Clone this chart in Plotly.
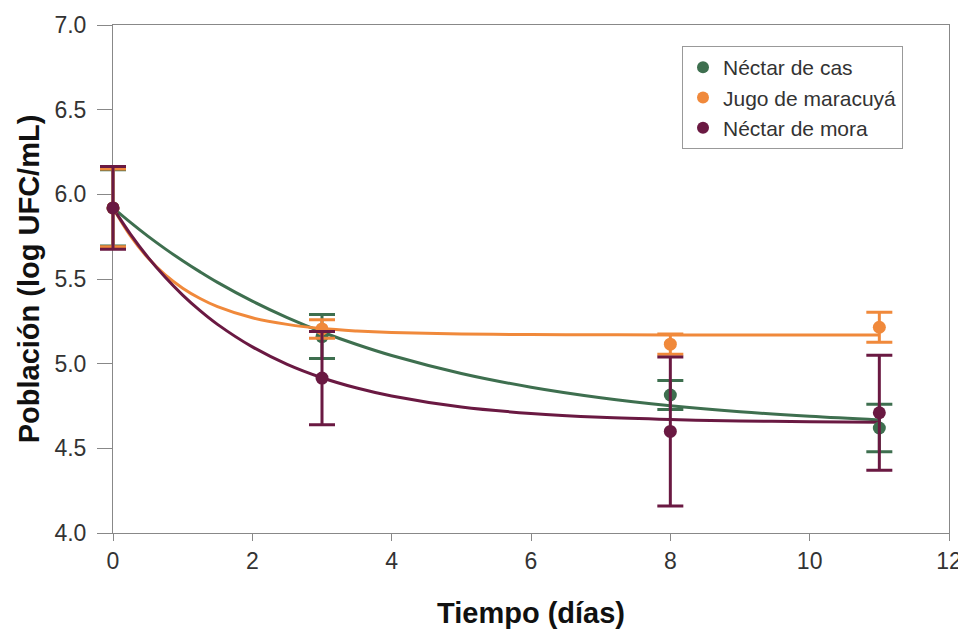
import plotly.graph_objects as go

# Measured points (días, log UFC/mL) and error (±)
dias = [0, 3, 8, 11]
cas_y = [5.92, 5.16, 4.815, 4.62]
cas_err = [0.225, 0.13, 0.085, 0.14]
mar_y = [5.92, 5.205, 5.115, 5.215]
mar_err = [0.23, 0.055, 0.06, 0.088]
mora_y = [5.92, 4.915, 4.60, 4.71]
mora_err = [0.245, 0.275, 0.44, 0.34]

# Fitted curves, values
curve_x = [0, 0.25, 0.5, 0.75, 1, 1.25, 1.5, 2, 2.5, 3, 3.5, 4, 5, 6, 7, 8, 9, 10, 11]
cas_fit = [5.92, 5.834, 5.753, 5.678, 5.608, 5.542, 5.480, 5.369, 5.272, 5.187, 5.113, 5.048,
           4.942, 4.861, 4.799, 4.752, 4.716, 4.689, 4.668]
mar_fit = [5.92, 5.754, 5.625, 5.524, 5.446, 5.385, 5.337, 5.271, 5.232, 5.207, 5.193, 5.184,
           5.175, 5.172, 5.171, 5.170, 5.170, 5.170, 5.170]
mora_fit = [5.92, 5.765, 5.629, 5.510, 5.405, 5.313, 5.232, 5.099, 4.996, 4.917, 4.856, 4.809,
            4.744, 4.706, 4.683, 4.670, 4.662, 4.657, 4.654]

x_ticks = [0, 2, 4, 6, 8, 10, 12]
y_ticks = [4.0, 4.5, 5.0, 5.5, 6.0, 6.5, 7.0]
x_range = [0, 12]
y_range = [4.0, 7.0]

names = ["Néctar de cas", "Jugo de maracuyá", "Néctar de mora"]
colors = ["#3e6f4f", "#f0893b", "#6a1942"]

# Page has an 8px body margin; figure is sized so the plot lands where the reference has it.
W, H = 958, 626
ML, MR, MT, MB = 85, 17, 17, 101
pad = 20  # extra room (px) on the left so the error bars at day 0 are not clipped
pw = W - ML - MR
d0 = pad / pw
px_per_unit = (pw - pad) / (x_range[1] - x_range[0])
x2_range = [x_range[0] - pad / px_per_unit, x_range[1]]

fig = go.Figure()
series = [(cas_y, cas_err, cas_fit), (mar_y, mar_err, mar_fit), (mora_y, mora_err, mora_fit)]

for (y, e, fit), name, c in zip(series, names, colors):
    fig.add_trace(go.Scatter(x=curve_x, y=fit, mode="lines", line=dict(color=c, width=3, shape="spline"),
                             showlegend=False, hoverinfo="skip", xaxis="x", yaxis="y"))

for (y, e, fit), name, c in zip(series, names, colors):
    fig.add_trace(go.Scatter(x=dias, y=y, mode="markers", name=name, cliponaxis=False,
                             xaxis="x2", yaxis="y2",
                             marker=dict(color=c, size=13),
                             error_y=dict(type="data", array=e, visible=True, color=c,
                                          thickness=3, width=13)))

fam = "Liberation Sans, Arial, sans-serif"
axis_font = dict(family=fam, size=23, color="#333")
title_font = dict(family=fam, size=29, color="#111")

fig.update_layout(
    width=W, height=H,
    margin=dict(l=ML, r=MR, t=MT, b=MB),
    paper_bgcolor="white", plot_bgcolor="rgba(0,0,0,0)",
    font=axis_font,
    legend=dict(x=(682 - 8 - ML) / pw, y=1 - (46 - 8 - MT) / (H - MT - MB), xanchor="left", yanchor="top",
                bordercolor="#999", borderwidth=1, bgcolor="white",
                font=dict(family=fam, size=21, color="#333"),
                itemsizing="constant", tracegroupgap=0),
    xaxis=dict(domain=[d0, 1], range=x_range, tickvals=x_ticks, ticks="outside", ticklen=7,
               tickcolor="#888", showline=True, linecolor="#888", linewidth=1, mirror=True,
               showgrid=False, zeroline=False, tickfont=axis_font, automargin=False,
               title=dict(text="<b>Tiempo (días)</b>", font=title_font, standoff=30)),
    yaxis=dict(domain=[0, 1], range=y_range, tickvals=y_ticks, tickformat=".1f",
               ticks="outside", ticklen=15, tickcolor="#888", showline=True, linecolor="#888",
               linewidth=1, mirror=True, showgrid=False, zeroline=False, tickfont=axis_font,
               automargin=False, ticklabelstandoff=6,
               title=dict(text="<b>Población (log UFC/mL)</b>", font=title_font, standoff=6)),
    xaxis2=dict(domain=[0, 1], range=x2_range, visible=False, anchor="y2", fixedrange=True),
    yaxis2=dict(domain=[0, 1], range=y_range, visible=False, anchor="x2", fixedrange=True),
)

fig.write_html("out.html")
